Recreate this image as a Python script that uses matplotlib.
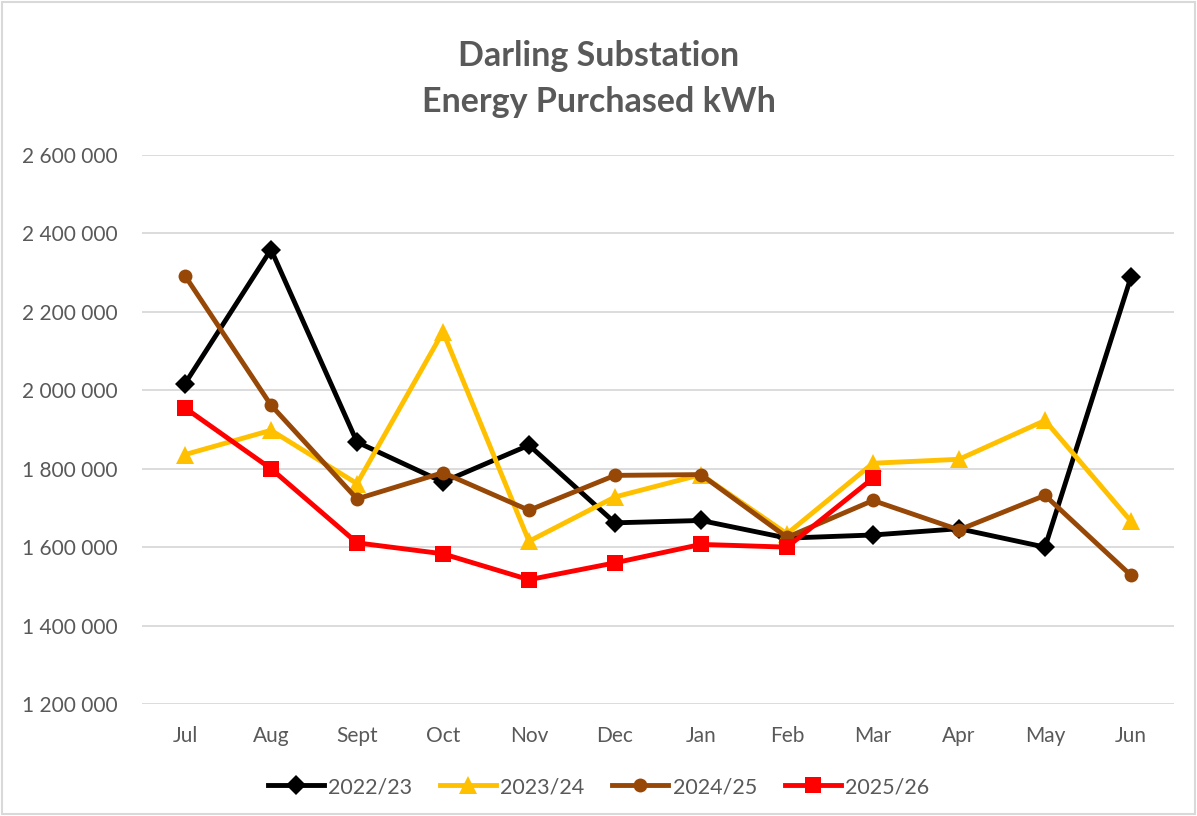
import matplotlib
matplotlib.use("Agg")
import matplotlib.pyplot as plt
from matplotlib.patches import Rectangle
from matplotlib.ticker import FuncFormatter, MultipleLocator

plt.rcParams['font.family'] = ['Lato', 'DejaVu Sans']

months = ["Jul", "Aug", "Sept", "Oct", "Nov", "Dec", "Jan", "Feb", "Mar", "Apr", "May", "Jun"]
fy2022_23 = [2017000, 2359000, 1868000, 1766000, 1860000, 1662000, 1668000, 1623000, 1631000, 1647000, 1600000, 2289000]
fy2023_24 = [1836000, 1898000, 1762000, 2149000, 1615000, 1728000, 1785000, 1634000, 1814000, 1824000, 1923000, 1666000]
fy2024_25 = [2292000, 1962000, 1723000, 1790000, 1694000, 1783000, 1785000, 1625000, 1719000, 1644000, 1732000, 1528000]
fy2025_26 = [1955000, 1800000, 1611000, 1583000, 1517000, 1560000, 1607000, 1600000, 1776000]

series = [
    ("2022/23", fy2022_23, "#000000", "D", 10),
    ("2023/24", fy2023_24, "#FFC000", "^", 13),
    ("2024/25", fy2024_25, "#974706", "o", 10),
    ("2025/26", fy2025_26, "#FF0000", "s", 12),
]

fig = plt.figure(figsize=(11.97, 8.16), dpi=100)
ax = fig.add_axes([142/1197, 1 - 704/816, (1174-142)/1197, (704-155)/816])

x = list(range(len(months)))
for label, vals, color, marker, ms in series:
    ax.plot(x[:len(vals)], vals, color=color, lw=3.5, marker=marker, markersize=ms,
            markeredgewidth=0, label=label, zorder=3)

ax.set_xlim(-0.5, len(months) - 0.5)
ax.set_ylim(1200000, 2600000)
ax.yaxis.set_major_locator(MultipleLocator(200000))
ax.yaxis.set_major_formatter(FuncFormatter(lambda v, p: f"{int(v):,}".replace(",", " ")))
ax.set_xticks(x)
ax.set_xticklabels(months)
ax.grid(axis='y', color='#D9D9D9', lw=1.3, zorder=0)
for s in ax.spines.values():
    s.set_visible(False)
ax.tick_params(axis='both', length=0, labelsize=15, colors='#595959')
ax.tick_params(axis='x', pad=16)
ax.tick_params(axis='y', pad=17.5)

fig.text(0.5, 1 - 56/816, "Darling Substation", ha='center', va='center',
         fontsize=24.5, fontweight='bold', color='#595959')
fig.text(0.5, 1 - 102/816, "Energy Purchased kWh", ha='center', va='center',
         fontsize=24.5, fontweight='bold', color='#595959')

leg = fig.legend(loc='center', bbox_to_anchor=(0.5, 1 - 787/816), ncol=4, frameon=False,
                 fontsize=15.5, handlelength=2.6, columnspacing=1.3, handletextpad=0.2)
for t in leg.get_texts():
    t.set_color('#595959')

fig.patches.append(Rectangle((2/1197, 2/816), 1 - 4/1197, 1 - 4/816, transform=fig.transFigure,
                             fill=False, edgecolor='#D9D9D9', lw=1.5))

fig.savefig("out.png", dpi=100, facecolor='white')
